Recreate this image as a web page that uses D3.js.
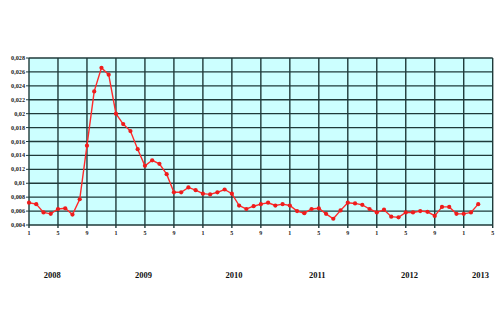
<!DOCTYPE html>
<html><head><meta charset="utf-8">
<script src="https://cdn.jsdelivr.net/npm/d3@7"></script>
<style>html,body{margin:0;padding:0;background:#fff;}svg{display:block;}</style>
</head><body>
<script>
const values = [0.0072,0.0070,0.0058,0.0056,0.0063,0.0064,0.0055,0.0077,0.0154,0.0232,0.0266,0.0256,
0.0200,0.0185,0.0175,0.0149,0.0125,0.0133,0.0128,0.0113,0.0087,0.0087,0.0094,0.0090,
0.0085,0.0084,0.0087,0.0091,0.0085,0.0068,0.0063,0.0067,0.0070,0.0072,0.0068,0.0070,
0.0068,0.0060,0.0057,0.0063,0.0064,0.0056,0.0049,0.0061,0.0072,0.0071,0.0069,0.0063,
0.0058,0.0062,0.0052,0.0051,0.0058,0.0058,0.0060,0.0059,0.0053,0.0066,0.0066,0.0056,
0.0056,0.0058,0.0070];
const monthTicks = [0,4,8,12,16,20,24,28,32,36,40,44,48,52,56,60,64];
const monthTickLabels = ["1","5","9","1","5","9","1","5","9","1","5","9","1","5","9","1","5"];
const years = ["2008","2009","2010","2011","2012","2013"];
const yearPos = [3.2,15.8,28.3,39.8,52.5,62.3];
const yTicks = [0.004,0.006,0.008,0.01,0.012,0.014,0.016,0.018,0.02,0.022,0.024,0.026,0.028];
const yTickLabels = ["0,004","0,006","0,008","0,01","0,012","0,014","0,016","0,018","0,02","0,022","0,024","0,026","0,028"];

const W=500,H=333, L=29, R=492.7, T=58, B=225;
const svg=d3.select("body").append("svg").attr("width",W).attr("height",H);
const x=d3.scaleLinear().domain([0,64]).range([L,R]);
const y=d3.scaleLinear().domain([0.004,0.028]).range([B,T]);

svg.append("rect").attr("x",L).attr("y",T).attr("width",R-L).attr("height",B-T).attr("fill","#ccffff");

const grid="#1f3a3a";
svg.append("g").selectAll("line").data(yTicks).join("line")
  .attr("x1",L).attr("x2",R).attr("y1",d=>y(d)).attr("y2",d=>y(d))
  .attr("stroke",grid).attr("stroke-width",1.4);
svg.append("g").selectAll("line").data(monthTicks).join("line")
  .attr("x1",d=>x(d)).attr("x2",d=>x(d)).attr("y1",T).attr("y2",B+3)
  .attr("stroke",grid).attr("stroke-width",1.4);
// small tick stubs on y axis
svg.append("g").selectAll("line").data(yTicks).join("line")
  .attr("x1",L-3).attr("x2",L).attr("y1",d=>y(d)).attr("y2",d=>y(d))
  .attr("stroke",grid).attr("stroke-width",1);

const font="'Liberation Serif','DejaVu Serif',serif";
svg.append("g").selectAll("text").data(yTicks).join("text")
  .attr("x",L-4).attr("y",d=>y(d)+2).attr("text-anchor","end")
  .attr("font-family",font).attr("font-weight","bold").attr("font-size",6.2).attr("fill","#222")
  .text((d,i)=>yTickLabels[i]);
svg.append("g").selectAll("text").data(monthTicks).join("text")
  .attr("x",d=>x(d)).attr("y",B+10).attr("text-anchor","middle")
  .attr("font-family",font).attr("font-weight","bold").attr("font-size",6).attr("fill","#222")
  .text((d,i)=>monthTickLabels[i]);
svg.append("g").selectAll("text").data(years).join("text")
  .attr("x",(d,i)=>x(yearPos[i])).attr("y",278).attr("text-anchor","middle")
  .attr("font-family",font).attr("font-weight","bold").attr("font-size",8.5).attr("fill","#111")
  .text(d=>d);

const line=d3.line().x((d,i)=>x(i)).y(d=>y(d));
svg.append("path").datum(values).attr("d",line).attr("fill","none")
  .attr("stroke","#ff2a2a").attr("stroke-width",1.4);
svg.append("g").selectAll("path").data(values).join("path")
  .attr("transform",(d,i)=>`translate(${x(i)},${y(d)})`)
  .attr("d",d3.symbol().type(d3.symbolCircle).size(14))
  .attr("fill","#ee1c1c");
</script>
</body></html>
